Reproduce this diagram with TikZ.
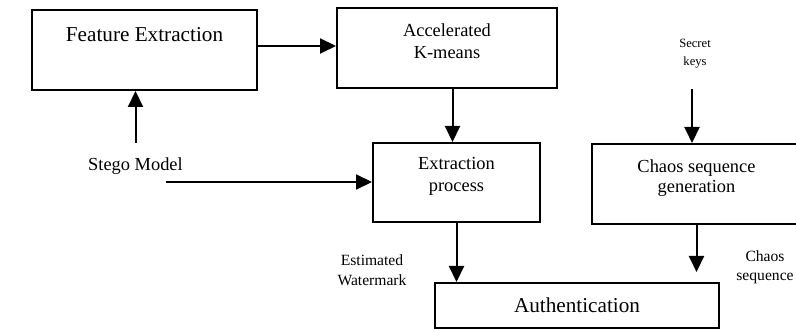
\documentclass[tikz,border=0pt]{standalone}
\usepackage{fontspec}
\setmainfont{Liberation Serif}
\usetikzlibrary{arrows.meta}

\begin{document}
\begin{tikzpicture}[x=0.5pt, y=-0.5pt, line width=1pt,
    box/.style={draw, rectangle, inner sep=0pt},
    arr/.style={-{Triangle[length=8pt,width=7.5pt]}},
    bigtext/.style={font=\fontsize{10.6}{12.5}\selectfont},
    midtext/.style={font=\fontsize{9.2}{11}\selectfont, align=center},
    smalltext/.style={font=\fontsize{7.8}{10}\selectfont, align=center}]
    \clip (0,0) rectangle (796,330);

    % boxes
    \node[box, minimum width=112.5pt, minimum height=40pt,
      label={[bigtext, yshift=7.5pt]center:Feature Extraction}] (fe) at (144.5,50) {};
    \node[box, minimum width=110pt, minimum height=40pt,
      label={[midtext, yshift=3.5pt]center:Accelerated\\K-means}] (km) at (447,48) {};
    \node[box, minimum width=83.5pt, minimum height=39.5pt,
      label={[midtext, yshift=3.25pt]center:Extraction\\process}] (ex) at (456.5,182.5) {};
    \node[box, minimum width=104.5pt, minimum height=40pt,
      label={[midtext, font=\fontsize{9.2}{10}\selectfont, yshift=3pt]center:Chaos sequence\\generation}] (ch) at (696.5,184) {};
    \node[box, bigtext, minimum width=142pt, minimum height=22.5pt] (auth) at (577,305.5) {Authentication};

    % free labels
    \node[midtext] (stego) at (135.5,166) {Stego Model};
    \node[align=center, font=\fontsize{6.3}{9}\selectfont] (keys) at (695,54) {Secret\\keys};
    \node[smalltext] (est) at (372,270) {Estimated\\Watermark};
    \node[smalltext, font=\fontsize{7.8}{9.5}\selectfont] (chlab) at (765,267.5) {Chaos\\sequence};
    \coordinate (stegoout) at (166,182);

    % connectors
    \draw[arr] ([yshift=2pt]fe.east) -- ([yshift=2pt]fe.east -| km.west);
    \draw[arr] ([xshift=-2pt]ex.north |- km.south) -- ([xshift=-2pt]ex.north);
    \draw[arr, shorten <=3.5pt] (stego.north) -- (stego.north |- fe.south);
    \draw[arr] (stegoout) -- (stegoout -| ex.west);
    \draw[arr, shorten <=6.5pt] ([xshift=-1.5pt]keys.south) -- ([xshift=-1.5pt]keys.south |- ch.north);
    \draw[arr] (ex.south) -- (ex.south |- auth.north);
    \draw[arr, shorten >=5pt] (ch.south) -- (ch.south |- auth.north);
  \end{tikzpicture}
\end{document}
